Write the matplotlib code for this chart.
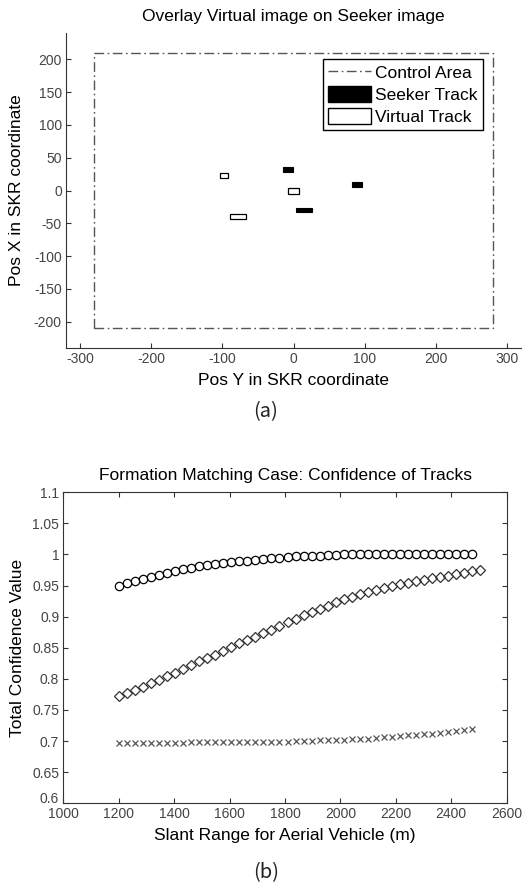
import matplotlib
matplotlib.use("Agg")
import matplotlib.pyplot as plt
import numpy as np
from matplotlib.patches import Rectangle, Patch
from matplotlib.lines import Line2D
from matplotlib.ticker import FormatStrFormatter
from matplotlib.transforms import ScaledTranslation

plt.rcParams['font.family'] = ['Liberation Sans', 'DejaVu Sans']
plt.rcParams['axes.unicode_minus'] = False

# (a) control area and tracks (x, y, width, height)
control_x = [-280, 280, 280, -280, -280]
control_y = [-210, -210, 210, 210, -210]
seeker_tracks = [(-15, 28, 14, 8), (82, 5, 14, 8), (4, -33, 22, 6.5)]
virtual_tracks = [(-104, 19, 12, 8), (-8, -5, 15, 8.5), (-89, -43, 22, 7)]

# (b) confidence vs slant range
range_step = 29
conf_circle = [0.950, 0.9545, 0.958, 0.961, 0.964, 0.967, 0.971, 0.974, 0.977,
               0.979, 0.981, 0.983, 0.984, 0.986, 0.988, 0.989, 0.990, 0.991,
               0.993, 0.994, 0.995, 0.996, 0.997, 0.997, 0.998, 0.998, 0.999,
               0.9995, 1.0, 1.0, 1.0, 1.0, 1.0, 1.0, 1.0, 1.0, 1.0, 1.0, 1.0,
               1.0, 1.0, 1.0, 1.0, 1.0, 1.0]
conf_diamond = [0.772, 0.777, 0.782, 0.787, 0.793, 0.798, 0.804, 0.810, 0.816,
                0.822, 0.828, 0.833, 0.839, 0.845, 0.851, 0.857, 0.862, 0.868,
                0.874, 0.879, 0.885, 0.891, 0.897, 0.902, 0.908, 0.913, 0.918,
                0.923, 0.928, 0.932, 0.936, 0.940, 0.943, 0.946, 0.949, 0.952,
                0.954, 0.957, 0.959, 0.962, 0.964, 0.966, 0.969, 0.971, 0.973,
                0.975]
conf_cross = [0.697, 0.697, 0.697, 0.697, 0.697, 0.697, 0.697, 0.697, 0.697,
              0.698, 0.698, 0.698, 0.698, 0.698, 0.698, 0.698, 0.698, 0.698,
              0.699, 0.699, 0.699, 0.699, 0.700, 0.700, 0.700, 0.701, 0.701,
              0.702, 0.702, 0.703, 0.704, 0.704, 0.705, 0.706, 0.707, 0.708,
              0.709, 0.710, 0.711, 0.712, 0.713, 0.715, 0.716, 0.718, 0.720]
r_circle = 1200 + range_step * np.arange(len(conf_circle))
r_diamond = 1200 + range_step * np.arange(len(conf_diamond))
r_cross = 1200 + range_step * np.arange(len(conf_cross))

tick_col = '#444444'
spine_col = '#333333'
dashdot = (0, (7, 2.5, 1.2, 2.5))

fig = plt.figure(figsize=(5.32, 8.84), dpi=100)

# ---------- (a) ----------
ax1 = fig.add_axes([0.1241, 0.6063, 0.8553, 0.3563])
ax1.plot(control_x, control_y, color='#555555', lw=1.0, linestyle=dashdot)
for (x, y, w, h) in seeker_tracks:
    ax1.add_patch(Rectangle((x, y), w, h, facecolor='black', edgecolor='black', lw=0.8))
for (x, y, w, h) in virtual_tracks:
    ax1.add_patch(Rectangle((x, y), w, h, facecolor='white', edgecolor='black', lw=0.9))
ax1.set_xlim(-320, 320)
ax1.set_ylim(-240, 240)
ax1.set_xticks(np.arange(-300, 301, 100))
ax1.set_yticks(np.arange(-200, 201, 50))
ax1.spines['top'].set_visible(False)
ax1.spines['right'].set_visible(False)
for s in ['left', 'bottom']:
    ax1.spines[s].set_color(spine_col)
ax1.tick_params(direction='in', length=3.5, labelsize=10, colors=spine_col,
                labelcolor=tick_col, pad=3)
ax1.set_title('Overlay Virtual image on Seeker image', fontsize=12.5, pad=9)
ax1.set_xlabel('Pos Y in SKR coordinate', fontsize=12.5, labelpad=5)
ax1.set_ylabel('Pos X in SKR coordinate', fontsize=12.5, labelpad=7)

handles = [Line2D([0], [0], color='#555555', lw=1.0, linestyle=dashdot),
           Patch(facecolor='black', edgecolor='black'),
           Patch(facecolor='white', edgecolor='black')]
leg = ax1.legend(handles, ['Control Area', 'Seeker Track', 'Virtual Track'],
                 loc='upper right', bbox_to_anchor=(0.916, 0.9165), borderaxespad=0,
                 fontsize=12.5, fancybox=False, framealpha=1, edgecolor='black',
                 handlelength=2.45, handleheight=1.0, handletextpad=0.25,
                 labelspacing=0.3, borderpad=0.3)
leg.get_frame().set_linewidth(1.0)

fig.text(0.5, 1 - 412 / 884, '(a)', ha='center', va='center', fontsize=14.5,
         family=['Noto Sans CJK KR', 'DejaVu Sans'], color='#222222')

# ---------- (b) ----------
ax2 = fig.add_axes([0.119, 0.0913, 0.8335, 0.3518])
ax2.plot(r_circle, conf_circle, linestyle='none', marker='o', markersize=6,
         markerfacecolor='none', markeredgecolor='black', markeredgewidth=0.9)
ax2.plot(r_diamond, conf_diamond, linestyle='none', marker='D', markersize=5.5,
         markerfacecolor='none', markeredgecolor='#333333', markeredgewidth=0.9)
ax2.plot(r_cross, conf_cross, linestyle='none', marker='x', markersize=3.8,
         color='#555555', markeredgewidth=0.9)
ax2.set_xlim(1000, 2600)
ax2.set_ylim(0.6, 1.1)
ax2.set_xticks(np.arange(1000, 2601, 200))
ax2.set_yticks(np.arange(0.6, 1.1001, 0.05))
ax2.yaxis.set_major_formatter(FormatStrFormatter('%g'))
for s in ax2.spines.values():
    s.set_color(spine_col)
ax2.tick_params(direction='in', length=3.5, labelsize=10, colors=spine_col,
                labelcolor=tick_col, top=True, right=True, pad=3)
ax2.set_title('Formation Matching Case: Confidence of Tracks', fontsize=12.5, pad=9)
ax2.set_xlabel('Slant Range for Aerial Vehicle (m)', fontsize=12.5, labelpad=5)
ax2.set_ylabel('Total Confidence Value', fontsize=12.5, labelpad=5)

# the bottom y label sits a little raised, as in the original
fig.canvas.draw()
lab0 = ax2.get_yticklabels()[0]
lab0.set_transform(lab0.get_transform() + ScaledTranslation(0, 4 / 72, fig.dpi_scale_trans))

fig.text(0.5, 1 - 873 / 884, '(b)', ha='center', va='center', fontsize=14.5,
         family=['Noto Sans CJK KR', 'DejaVu Sans'], color='#222222')

fig.savefig('out.png', dpi=100)
